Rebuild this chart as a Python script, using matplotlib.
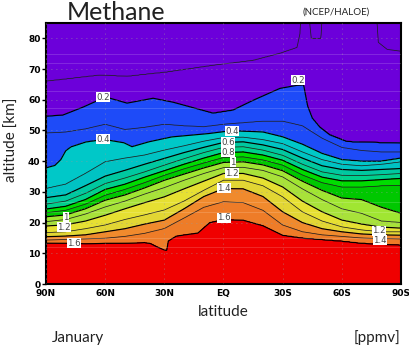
import numpy as np
import matplotlib
matplotlib.use("Agg")
import matplotlib.pyplot as plt

# ---------------- data ----------------
# contour levels of methane mixing ratio [ppmv]
levels = [0.1, 0.2, 0.3, 0.4, 0.5, 0.6, 0.7, 0.8, 0.9, 1.0,
          1.1, 1.2, 1.3, 1.4, 1.5, 1.6]

# common latitude knots (90N ... 90S) for most contour heights [km]
lat_grid = [90, 80, 70, 60, 50, 40, 30, 20, 10, 0,
            -10, -20, -30, -40, -50, -60, -70, -80, -90]
z03 = [49.2, 49.5, 50.5, 52.0, 50.3, 51.0, 52.0, 51.5, 51.2, 52.0,
       52.5, 53.0, 53.0, 51.5, 47.5, 44.5, 43.5, 43.0, 43.0]
z05 = [31.1, 32.5, 36.0, 39.8, 41.0, 42.0, 43.6, 45.0, 46.5, 47.7,
       47.8, 47.0, 45.7, 43.0, 40.5, 39.0, 38.5, 39.0, 39.8]
z06 = [28.1, 29.0, 32.0, 35.1, 37.0, 39.0, 40.9, 42.8, 44.5, 46.1,
       46.3, 45.3, 43.8, 41.0, 38.5, 37.3, 37.0, 37.3, 37.6]
z07 = [26.0, 27.0, 29.5, 32.7, 34.5, 36.5, 38.7, 40.8, 42.8, 44.5,
       44.7, 43.6, 41.9, 39.0, 36.5, 35.4, 35.3, 35.6, 36.0]
z08 = [24.4, 25.3, 27.5, 30.8, 32.5, 34.8, 36.9, 39.0, 41.0, 42.8,
       43.0, 42.0, 40.3, 37.3, 34.8, 33.6, 33.6, 34.0, 34.4]
z09 = [23.2, 24.0, 26.0, 28.9, 30.8, 33.0, 35.4, 37.5, 39.4, 41.2,
       41.4, 40.4, 38.7, 35.5, 33.0, 31.6, 31.6, 32.0, 32.2]
z10 = [21.9, 22.5, 24.5, 27.3, 29.0, 31.3, 33.8, 35.8, 37.8, 39.6,
       39.8, 38.8, 36.9, 33.5, 30.5, 28.0, 27.5, 25.0, 23.0]
z11 = [20.3, 21.0, 22.8, 25.1, 27.0, 29.3, 31.4, 33.8, 36.0, 37.9,
       38.0, 37.0, 34.9, 31.0, 27.5, 24.5, 23.0, 20.5, 20.0]
z12 = [18.9, 19.3, 20.5, 22.4, 24.5, 26.5, 28.4, 31.0, 33.5, 36.0,
       36.0, 34.5, 31.6, 27.0, 23.5, 20.8, 19.5, 18.5, 18.2]
z13 = [16.7, 17.0, 18.0, 19.2, 21.0, 22.5, 24.1, 27.0, 30.5, 33.8,
       33.8, 32.0, 28.4, 23.5, 20.5, 18.6, 17.6, 17.0, 17.0]
z14 = [15.4, 15.6, 16.0, 17.0, 18.0, 19.5, 20.8, 24.5, 28.5, 31.1,
       31.0, 28.5, 23.5, 20.0, 18.0, 17.0, 16.3, 16.0, 15.9]
z15 = [14.3, 14.5, 14.7, 14.9, 15.5, 16.5, 18.1, 21.5, 25.0, 26.8,
       26.5, 24.0, 19.2, 17.0, 16.0, 15.5, 15.0, 14.8, 14.7]

# contours with sharper structure, own latitude knots
lat01 = [90, 62.6, 48.9, 28.6, 5.3, -15, -28.6, -37.3, -38.8, -39.6,
         -42.6, -44.5, -49.4, -50.4, -77.2, -78.5, -83, -90]
z01 = [66.0, 68.0, 67.6, 69.0, 71.2, 72.8, 75.1, 77.0, 81.6, 92.0,
       92.0, 80.0, 80.0, 92.0, 92.0, 78.7, 76.4, 75.8]
lat02 = [90, 81.4, 71.2, 62.6, 57.5, 48.9, 35.7, 25.6, 5.3, -4.8,
         -15, -28.6, -37.3, -40.6, -42.6, -45.0, -48.9, -54, -62.6, -90]
z02 = [54.6, 55.0, 57.6, 60.1, 60.5, 58.9, 60.5, 59.2, 55.6, 56.6,
       59.8, 63.7, 64.7, 64.8, 58.0, 54.0, 51.0, 48.5, 46.3, 45.8]
lat04 = [90, 85.5, 82.5, 80.0, 77.3, 69.7, 60.6, 50.5, 46.4, 37.8, 26.2,
         7.4, 0, -8.4, -20, -30, -40, -50, -60, -70, -80, -90]
z04 = [37.8, 38.6, 40.5, 43.4, 44.7, 46.3, 47.1, 46.0, 44.7, 46.3, 47.9,
       49.0, 49.6, 49.8, 49.5, 47.9, 45.5, 42.5, 40.5, 40.0, 40.0, 41.0]
lat16 = [90, 70, 50, 40, 37, 34, 30.5, 28.8, 28.0, 24, 20, 13, 7, 0,
         -10, -20, -30, -40, -50, -60, -70, -80, -90]
z16 = [13.4, 13.2, 13.3, 13.5, 13.2, 12.2, 11.2, 10.9, 14.0, 15.6, 16.0, 16.6,
       20.0, 21.0, 20.8, 19.0, 15.9, 15.0, 14.5, 14.0, 13.3, 13.0, 12.7]

surface_value = 1.75
top_value = 0.03

band_colors = ["#6c00da", "#6c00da",              # < 0.2
               "#1e4bf8", "#1e4bf8",              # 0.2 - 0.4
               "#00c8c8", "#00c3c3",              # 0.4 - 0.6
               "#00c8a0", "#00d08c",              # 0.6 - 0.8
               "#00dc00", "#00c800",              # 0.8 - 1.0
               "#a0e632", "#a8e23a",              # 1.0 - 1.2
               "#e6e032", "#e2d634",              # 1.2 - 1.4
               "#f08a2d", "#ee7c28",              # 1.4 - 1.6
               "#f00000"]                         # > 1.6

xtick_vals = [90, 60, 30, 0, -30, -60, -90]
xtick_labels = ["90N", "60N", "30N", "EQ", "30S", "60S", "90S"]
ytick_vals = [0, 10, 20, 30, 40, 50, 60, 70, 80]

# ---------------- build the field from contour heights ----------------
lat_f = np.linspace(90, -90, 721)
alt_f = np.linspace(0, 85, 341)


def heights(lats, alts):
    lats = np.asarray(lats, float)[::-1]
    alts = np.asarray(alts, float)[::-1]
    return np.interp(lat_f, lats, alts)


h = {
    0.1: heights(lat01, z01), 0.2: heights(lat02, z02),
    0.3: heights(lat_grid, z03), 0.4: heights(lat04, z04),
    0.5: heights(lat_grid, z05), 0.6: heights(lat_grid, z06),
    0.7: heights(lat_grid, z07), 0.8: heights(lat_grid, z08),
    0.9: heights(lat_grid, z09), 1.0: heights(lat_grid, z10),
    1.1: heights(lat_grid, z11), 1.2: heights(lat_grid, z12),
    1.3: heights(lat_grid, z13), 1.4: heights(lat_grid, z14),
    1.5: heights(lat_grid, z15), 1.6: heights(lat16, z16),
}

desc = sorted(levels, reverse=True)  # 1.6 (lowest) ... 0.1 (highest)
field = np.zeros((alt_f.size, lat_f.size))
for j in range(lat_f.size):
    zs = [0.0] + [h[v][j] for v in desc] + [100.0]
    vs = [surface_value] + desc + [top_value]
    zs = np.maximum.accumulate(np.array(zs))
    zs = zs + np.arange(len(zs)) * 1e-4
    field[:, j] = np.interp(alt_f, zs, vs)

# ---------------- plot ----------------
fig = plt.figure(figsize=(4.10, 3.46), dpi=100)
ax = fig.add_axes([46 / 410, 1 - 284 / 346, 355 / 410, 261 / 346])

bounds = [-1.0] + levels + [5.0]
ax.contourf(lat_f, alt_f, field, levels=bounds, colors=band_colors)
thick = [0.2, 0.4, 0.6, 0.8, 1.0, 1.2, 1.4, 1.6]
thin = [v for v in levels if v not in thick]
ax.contour(lat_f, alt_f, field, levels=thin, colors="#202020", linewidths=0.55)
ax.contour(lat_f, alt_f, field, levels=thick, colors="#000000", linewidths=0.85)

# faint horizontal stripes of the source grid
for a in [12.1, 14.9, 23.5, 26.8, 57.2, 62.9, 72.1, 75.0]:
    ax.axhline(a, color="white", lw=0.6, alpha=0.18, zorder=3)

ax.set_xlim(90, -90)
ax.set_ylim(0, 85)
ax.set_xticks(xtick_vals)
ax.set_xticklabels(xtick_labels)
ax.set_yticks(ytick_vals)
ax.grid(True, color="#9a9a9a", linestyle=(0, (1, 5)), linewidth=0.6, alpha=0.8)
ax.set_axisbelow(False)
ax.tick_params(axis="both", labelsize=6.5, length=3, width=1, pad=1)
for lab in ax.get_xticklabels() + ax.get_yticklabels():
    lab.set_fontweight("bold")
ax.tick_params(axis="x", length=0, pad=3.5)
for sp in ax.spines.values():
    sp.set_linewidth(1.5)

# contour labels (horizontal, white boxes as in the original)
label_spots = [("0.2", 61.1, 60.8), ("0.2", -37.8, 66.3),
               ("0.4", 61.1, 47.2), ("0.4", -4.3, 49.8),
               ("0.6", -2.3, 46.2), ("0.8", -2.3, 42.9),
               ("1", 79.9, 21.8), ("1", -4.8, 39.7),
               ("1.2", 80.9, 18.5), ("1.2", -4.3, 36.1), ("1.2", -78.8, 17.4),
               ("1.4", -0.2, 31.2), ("1.4", -79.3, 14.2),
               ("1.6", 75.8, 13.3), ("1.6", -0.2, 21.5)]
for txt, la, al in label_spots:
    ax.text(la, al, txt, fontsize=6.2, color="#444444", ha="center", va="center",
            zorder=6, bbox=dict(boxstyle="square,pad=0.06", fc="white", ec="none"))

tf = dict(family=["Lato", "DejaVu Sans"], color="#222222")
fig.text(67 / 410, 1 - 12 / 346, "Methane", fontsize=18, va="center", ha="left", **tf)
fig.text(336 / 410, 1 - 12 / 346, "(NCEP/HALOE)", fontsize=7, va="center", ha="center", **tf)
fig.text(12 / 410, 1 - 140 / 346, "altitude [km]", fontsize=11, rotation=90,
         va="center", ha="center", **tf)
fig.text(223 / 410, 1 - 312 / 346, "latitude", fontsize=11, va="center", ha="center", **tf)
fig.text(52 / 410, 1 - 338 / 346, "January", fontsize=11, va="center", ha="left", **tf)
fig.text(400 / 410, 1 - 338 / 346, "[ppmv]", fontsize=11, va="center", ha="right", **tf)

fig.savefig("out.png", dpi=100)
